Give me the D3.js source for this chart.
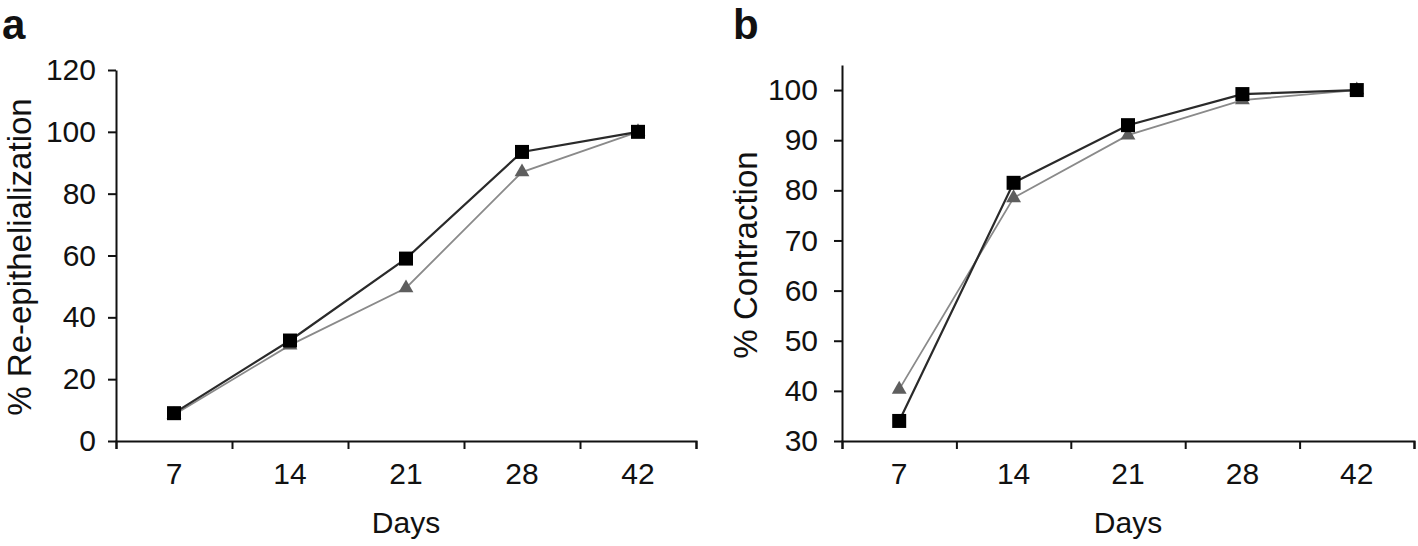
<!DOCTYPE html>
<html><head><meta charset="utf-8">
<script src="https://cdn.jsdelivr.net/npm/d3@7/dist/d3.min.js"></script>
<style>
html,body{margin:0;padding:0;background:#fff;}
svg text{font-family:"Liberation Sans",Arial,sans-serif;fill:#111;}
</style></head>
<body>
<svg id="chart" width="1418" height="546"></svg>
<script>
// ---- data ----
const days = ["7", "14", "21", "28", "42"];
const reEpiSquare = [9, 32.5, 59, 93.5, 100];
const reEpiTriangle = [8.5, 31, 49.5, 87, 100];
const contrSquare = [34, 81.5, 93, 99.2, 100];
const contrTriangle = [40.3, 78.5, 91, 98, 100];
const yTicksA = [0, 20, 40, 60, 80, 100, 120];
const yTicksB = [30, 40, 50, 60, 70, 80, 90, 100];
const titleA = "% Re-epithelialization";
const titleB = "% Contraction";
const xTitle = "Days";

const svg = d3.select("#chart");

function panel(cfg) {
  const g = svg.append("g");
  const x = d3.scaleBand().domain(days).range([cfg.x0, cfg.x1]);
  const xt = d3.scaleLinear().domain([0, days.length]).range([cfg.x0, cfg.x1]);
  const y = d3.scaleLinear().domain(cfg.yDomain).range([cfg.yBottom, cfg.yTop]);

  // x tick marks at category boundaries
  g.append("g").attr("transform", `translate(0,${cfg.yBottom})`)
    .call(d3.axisBottom(xt).tickValues(d3.range(days.length + 1)).tickFormat("").tickSize(8).tickSizeOuter(8))
    .call(s => { s.selectAll("path,line").attr("stroke", "#111").attr("stroke-width", 2); });
  // x labels at category centers
  g.append("g").attr("transform", `translate(0,${cfg.yBottom})`)
    .call(d3.axisBottom(x).tickSize(0).tickPadding(22))
    .call(s => {
      s.select("path").remove();
      s.selectAll("text").attr("font-size", 30).attr("fill", "#111")
        .attr("font-family", '"Liberation Sans",Arial,sans-serif');
    });
  // y axis
  g.append("g").attr("transform", `translate(${cfg.x0},0)`)
    .call(d3.axisLeft(y).tickValues(cfg.yTicks).tickSize(8).tickSizeOuter(0).tickPadding(cfg.pad))
    .call(s => {
      s.selectAll("path,line").attr("stroke", "#111").attr("stroke-width", 2);
      s.selectAll("text").attr("font-size", 30).attr("fill", "#111")
        .attr("font-family", '"Liberation Sans",Arial,sans-serif');
    });

  const cx = (d, i) => x(days[i]) + x.bandwidth() / 2;
  const line = d3.line().x(cx).y(d => y(d));

  g.append("path").datum(cfg.tri).attr("d", line)
    .attr("fill", "none").attr("stroke", "#8a8a8a").attr("stroke-width", 1.8);
  g.append("path").datum(cfg.sq).attr("d", line)
    .attr("fill", "none").attr("stroke", "#2a2a2a").attr("stroke-width", 2.2);

  g.selectAll(".tri").data(cfg.tri).enter().append("path")
    .attr("d", d3.symbol().type(d3.symbolTriangle).size(95))
    .attr("transform", (d, i) => `translate(${cx(d, i)},${y(d)})`)
    .attr("fill", "#5e5e5e");
  g.selectAll(".sq").data(cfg.sq).enter().append("path")
    .attr("d", d3.symbol().type(d3.symbolSquare).size(196))
    .attr("transform", (d, i) => `translate(${cx(d, i)},${y(d)})`)
    .attr("fill", "#000");

  // titles
  g.append("text").attr("x", (cfg.x0 + cfg.x1) / 2).attr("y", 533)
    .attr("text-anchor", "middle").attr("font-size", 30).text(xTitle);
  g.append("text").attr("transform", `translate(${cfg.titleX},${cfg.titleY}) rotate(-90)`)
    .attr("text-anchor", "middle").attr("font-size", 33).text(cfg.title);
  g.append("text").attr("x", cfg.letterX).attr("y", 39)
    .attr("font-size", 42).attr("font-weight", "bold").attr("fill", "#000").text(cfg.letter);
}

panel({x0: 116, x1: 696, yBottom: 441, yTop: 70, yDomain: [0, 120], yTicks: yTicksA, pad: 12,
  sq: reEpiSquare, tri: reEpiTriangle, title: titleA, titleX: 31, titleY: 257, letter: "a", letterX: 2});
panel({x0: 842, x1: 1414, yBottom: 441, yTop: 65, yDomain: [30, 105], yTicks: yTicksB, pad: 16,
  sq: contrSquare, tri: contrTriangle, title: titleB, titleX: 757, titleY: 255, letter: "b", letterX: 733});
</script>
</body></html>
